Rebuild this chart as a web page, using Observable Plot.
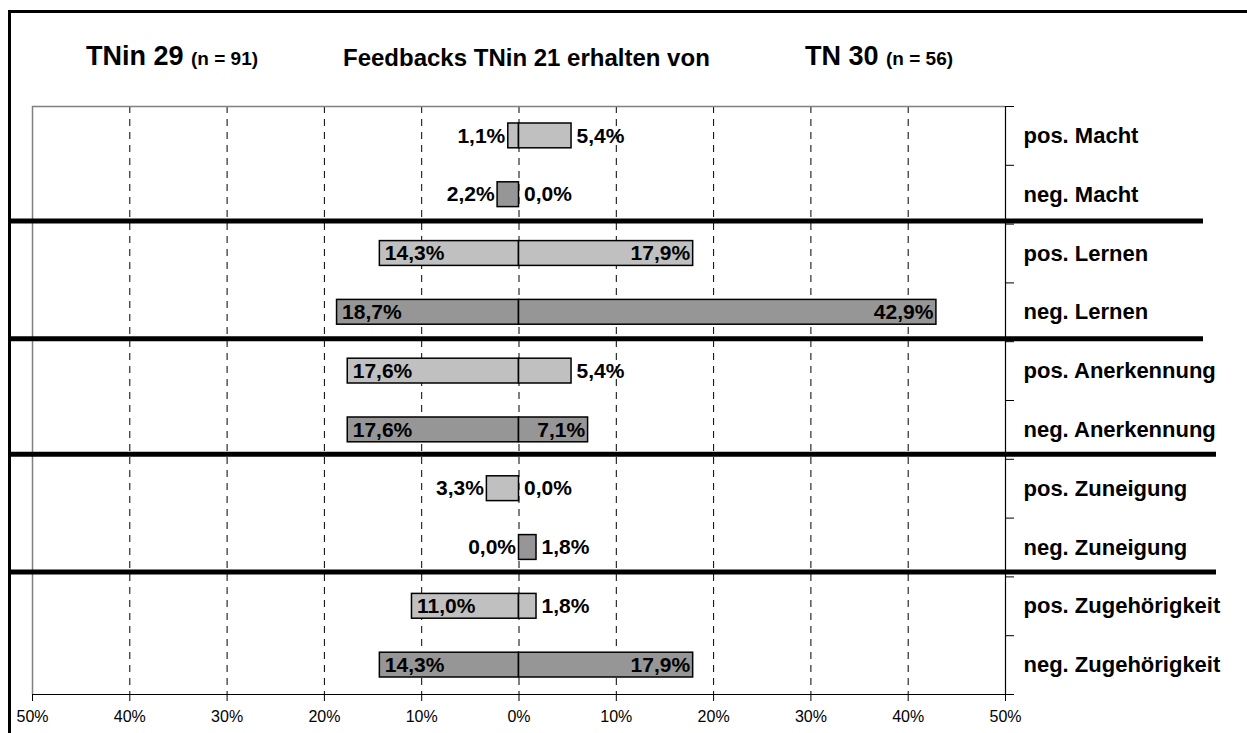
<!DOCTYPE html>
<html>
<head>
<meta charset="utf-8">
<script src="https://cdn.jsdelivr.net/npm/d3@7"></script>
<script src="https://cdn.jsdelivr.net/npm/@observablehq/plot@0.6"></script>
<style>
  html, body { margin: 0; padding: 0; background: #fff; }
  #page { position: relative; width: 1247px; height: 733px; overflow: hidden; font-family: "Liberation Sans", Arial, sans-serif; }
  #frame { position: absolute; left: 8px; top: 10px; width: 1400px; height: 900px; border: 3px solid #000; box-sizing: border-box; }
  .head { position: absolute; font-weight: bold; color: #000; white-space: nowrap; line-height: 1; }
  .head small { font-size: 19px; font-weight: bold; }
  #chart { position: absolute; left: 0; top: 0; }
</style>
</head>
<body>
<div id="page">
  <div id="frame"></div>
  <div class="head" style="left:86px; top:43px; font-size:27px;">TNin 29 <small>(n = 91)</small></div>
  <div class="head" style="left:343px; top:46px; font-size:24px;">Feedbacks TNin 21 erhalten von</div>
  <div class="head" style="left:805px; top:43px; font-size:27px;">TN 30 <small>(n = 56)</small></div>
  <div id="chart"></div>
</div>
<script>
// Feedback categories, top to bottom
const categories = [
  "pos. Macht", "neg. Macht",
  "pos. Lernen", "neg. Lernen",
  "pos. Anerkennung", "neg. Anerkennung",
  "pos. Zuneigung", "neg. Zuneigung",
  "pos. Zugehörigkeit", "neg. Zugehörigkeit"
];
// Share of feedbacks (%) from TNin 29 (drawn to the left)
const tnin29 = [1.1, 2.2, 14.3, 18.7, 17.6, 17.6, 3.3, 0.0, 11.0, 14.3];
// Share of feedbacks (%) from TN 30 (drawn to the right)
const tn30 = [5.4, 0.0, 17.9, 42.9, 5.4, 7.1, 0.0, 1.8, 1.8, 17.9];
// Axis ticks (percent, left side negative)
const xTicks = [-50, -40, -30, -20, -10, 0, 10, 20, 30, 40, 50];

const rows = categories.map((name, i) => ({
  name,
  row: i,
  topic: name.split(" ")[1],
  positive: name.startsWith("pos"),
  left: tnin29[i],
  right: tn30[i]
}));

// boundaries between topic groups (row index where a new topic starts)
const groupBreaks = rows.filter((d, i) => i > 0 && d.topic !== rows[i - 1].topic).map(d => d.row);

const fmt = v => v.toFixed(1).replace(".", ",") + "%";
const fillOf = d => d.positive ? "#c0c0c0" : "#969696";
const INSIDE = 6; // values above this get their label inside the bar
const labelStyle = { fontSize: 21, fontWeight: "bold", fill: "#000" };
const mid = d => d.row + 0.5;

const chart = Plot.plot({
  width: 1247,
  height: 733,
  marginLeft: 32,
  marginRight: 242,
  marginTop: 106,
  marginBottom: 39,
  style: { fontFamily: "'Liberation Sans', Arial, sans-serif", fontSize: "16px", color: "#000", background: "transparent", overflow: "visible" },
  x: { domain: [-50, 50], axis: null },
  y: { domain: [0, categories.length], reverse: true, axis: null },
  marks: [
    // dashed vertical gridlines
    Plot.ruleX(xTicks.filter(t => Math.abs(t) < 50), { stroke: "#000", strokeWidth: 1, strokeDasharray: "7,6" }),
    // plot area border (top, left)
    Plot.ruleY([0], { stroke: "#808080", strokeWidth: 1.5 }),
    Plot.ruleX([-50], { stroke: "#808080", strokeWidth: 1.5 }),
    // TNin 29 bars (left)
    Plot.rectX(rows, {
      x1: d => -d.left, x2: 0,
      y1: d => d.row, y2: d => d.row + 1,
      insetTop: 17, insetBottom: 17,
      fill: fillOf, stroke: "#000", strokeWidth: 1.5
    }),
    // TN 30 bars (right)
    Plot.rectX(rows, {
      x1: 0, x2: d => d.right,
      y1: d => d.row, y2: d => d.row + 1,
      insetTop: 17, insetBottom: 17,
      fill: fillOf, stroke: "#000", strokeWidth: 1.5
    }),
    // axis lines
    Plot.ruleX([50], { stroke: "#000", strokeWidth: 1.2 }),
    Plot.ruleY([categories.length], { stroke: "#000", strokeWidth: 1.2 }),
    Plot.axisX({
      ticks: xTicks, tickSize: 7, tickPadding: 9, fontSize: 16,
      tickFormat: d => Math.abs(d) + "%", label: null, stroke: "#000"
    }),
    Plot.axisY({
      anchor: "right", ticks: d3.range(0, categories.length + 1), tickSize: 8,
      tickFormat: () => "", label: null, stroke: "#000"
    }),
    // category labels on the right
    Plot.text(rows, {
      x: 50, y: mid, text: "name",
      textAnchor: "start", dx: 18, fontSize: 22, fontWeight: "bold", fill: "#000"
    }),
    // value labels, TNin 29: inside the bar end when long, outside otherwise
    Plot.text(rows.filter(d => d.left > INSIDE), {
      x: d => -d.left, y: mid, text: d => fmt(d.left),
      textAnchor: "start", dx: 5, ...labelStyle
    }),
    Plot.text(rows.filter(d => d.left <= INSIDE), {
      x: d => -d.left, y: mid, text: d => fmt(d.left),
      textAnchor: "end", dx: -3, ...labelStyle
    }),
    // value labels, TN 30
    Plot.text(rows.filter(d => d.right > INSIDE), {
      x: d => d.right, y: mid, text: d => fmt(d.right),
      textAnchor: "end", dx: -3, ...labelStyle
    }),
    Plot.text(rows.filter(d => d.right <= INSIDE), {
      x: d => d.right, y: mid, text: d => fmt(d.right),
      textAnchor: "start", dx: 5, ...labelStyle
    }),
    // thick separators between topic groups
    Plot.ruleY(groupBreaks.slice(0, 2), { stroke: "#000", strokeWidth: 5, insetLeft: -24, insetRight: -198, dy: -3 }),
    Plot.ruleY(groupBreaks.slice(2), { stroke: "#000", strokeWidth: 5, insetLeft: -24, insetRight: -211, dy: -5 })
  ]
});
document.getElementById("chart").appendChild(chart);
</script>
</body>
</html>
